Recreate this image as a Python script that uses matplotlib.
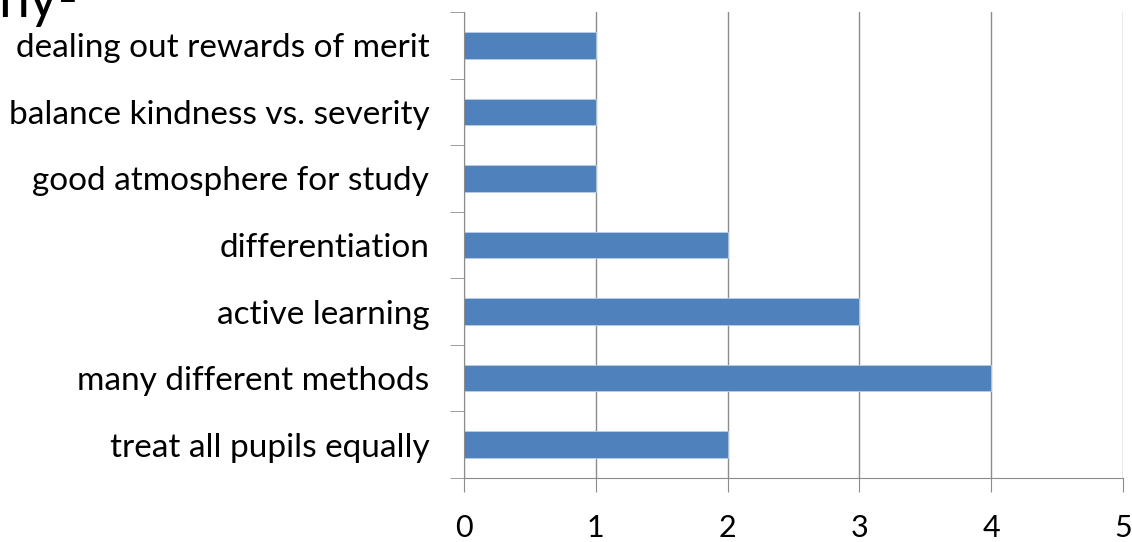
import matplotlib.pyplot as plt
from matplotlib.ticker import FixedLocator

# data (bottom to top)
categories = ['treat all pupils equally', 'many different methods', 'active learning',
              'differentiation', 'good atmosphere for study',
              'balance kindness vs. severity', 'dealing out rewards of merit']
values = [2, 4, 3, 2, 1, 1, 1]
xticks = [0, 1, 2, 3, 4, 5]

plt.rcParams['font.family'] = ['Lato', 'DejaVu Sans']

W, H = 1132, 542
fig = plt.figure(figsize=(W / 100, H / 100), dpi=100)
ax = fig.add_axes([464 / W, 1 - 478 / H, (1123 - 464) / W, (478 - 12) / H])

ypos = list(range(len(categories)))
ax.barh(ypos, values, height=0.4, color='#4F81BD', edgecolor='#B9CDE5', linewidth=0.6, zorder=3)

ax.set_xlim(0, 5)
ax.set_ylim(-0.5, len(categories) - 0.5)
ax.set_xticks(xticks)
ax.set_xticklabels([str(t) for t in xticks], fontsize=22)
ax.set_yticks(ypos)
ax.set_yticklabels(categories, fontsize=24)
ax.yaxis.set_minor_locator(FixedLocator([i - 0.5 for i in range(len(categories) + 1)]))

ax.grid(axis='x', color='#8C8C8C', linewidth=1, zorder=0)
for s in ['top', 'right']:
    ax.spines[s].set_visible(False)
for s in ['left', 'bottom']:
    ax.spines[s].set_color('#8C8C8C')
    ax.spines[s].set_zorder(4)

ax.tick_params(axis='y', which='major', length=0, pad=25)
ax.tick_params(axis='y', which='minor', length=10, color='#8C8C8C')
ax.tick_params(axis='x', which='major', length=10, color='#8C8C8C', pad=16)

# cut-off title fragment at the top left
fig.text(-2 / W, 1 - 17 / H, 'ny-', fontsize=40, ha='left', va='baseline')

fig.savefig('out.png', dpi=100)
